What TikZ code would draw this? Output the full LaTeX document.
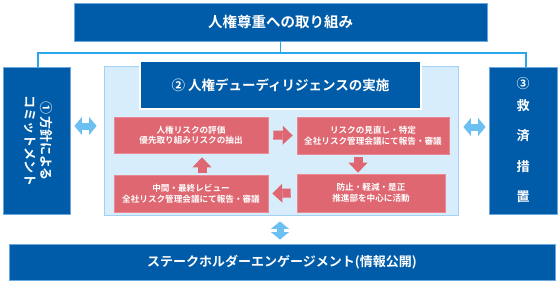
\documentclass[tikz,border=0pt]{standalone}
\usepackage{fontspec}
\setmainfont{Noto Sans CJK JP}[BoldFont={Noto Sans CJK JP Bold}]
\usetikzlibrary{arrows.meta}
\definecolor{dblue}{HTML}{005CA8}
\definecolor{dborder}{HTML}{6AA8DE}
\definecolor{panelfill}{HTML}{D8EDFB}
\definecolor{panelline}{HTML}{A2D2F3}
\definecolor{redbox}{HTML}{DF6771}
\definecolor{redline}{HTML}{E98A92}
\definecolor{arrblue}{HTML}{6CC0F1}
\definecolor{conn}{HTML}{2BA6E8}
\tikzset{
  darkbox/.style={draw=dborder, line width=0.8pt, fill=dblue, text=white, inner sep=0pt},
  panelbox/.style={draw=panelline, line width=0.8pt, fill=panelfill, inner sep=0pt},
  titlebox/.style={draw=white, line width=1.5pt, fill=dblue, text=white, inner sep=0pt},
  redbox/.style={draw=redline, line width=0.6pt, fill=redbox, text=white, inner sep=0pt, align=center,
    font=\fontsize{8.6}{10.5}\selectfont\bfseries},
  connector/.style={draw=conn, line width=1.5pt},
  redarrow/.style={draw=redbox, line width=9pt, -{Triangle[length=10pt,width=19pt,line width=0pt]}},
  bluearrow/.style={draw=arrblue, line width=7pt,
    {Triangle[length=7.5pt,width=18pt,line width=0pt]}-{Triangle[length=7.5pt,width=18pt,line width=0pt]}}
}
\begin{document}
\begin{tikzpicture}[x=1pt,y=-1pt]
\useasboundingbox (0,0) rectangle (560,285);
% top
\node[darkbox, minimum width=413pt, minimum height=38pt, font=\fontsize{14.5}{17}\selectfont\bfseries]
  (top) at (280.5,22) {人権尊重への取り組み};
% side boxes
\node[darkbox, minimum width=67pt, minimum height=147pt] (left) at (36.5,140.5) {};
\node[text=white, rotate=-90, align=center, inner sep=0pt, font=\fontsize{13}{16.5}\selectfont\bfseries]
  (lefttext) at (38.5,141) {①\,方針による\\コミットメント};
\node[darkbox, minimum width=68pt, minimum height=147pt, align=center,
  font=\fontsize{13}{30.5}\selectfont\bfseries] (right) at (523,140.5) {③\\[-9pt]救\\済\\措\\置};
% panel
\node[panelbox, minimum width=354pt, minimum height=149pt] (panel) at (281,140.5) {};
\node[titlebox, minimum width=281pt, minimum height=48pt, font=\fontsize{13.5}{16}\selectfont\bfseries]
  (title) at (280.5,85) {② 人権デューディリジェンスの実施};
% red boxes
\node[redbox, minimum width=154pt, minimum height=36pt] (A) at (191,135) {人権リスクの評価\\優先取り組みリスクの抽出};
\node[redbox, minimum width=152pt, minimum height=37pt] (B) at (373,135.5) {リスクの見直し・特定\\全社リスク管理会議にて報告・審議};
\node[redbox, minimum width=148pt, minimum height=38pt] (C) at (371,193) {防止・軽減・是正\\推進部を中心に活動};
\node[redbox, minimum width=154pt, minimum height=37pt] (D) at (191,193.5) {中間・最終レビュー\\全社リスク管理会議にて報告・審議};
% bottom
\node[darkbox, minimum width=546pt, minimum height=36pt, font=\fontsize{13}{16}\selectfont\bfseries]
  (bottom) at (282,262) {ステークホルダーエンゲージメント(情報公開)};
% connectors
\coordinate (hl) at (0,53);
\coordinate (lx) at (38,0);
\coordinate (rx) at (526,0);
\draw[connector] (top.south) -- (top.south |- hl) -| (lx |- left.north);
\draw[connector] (top.south |- hl) -| (rx |- right.north);
% red arrows
\coordinate (dn) at (358,0);
\coordinate (upx) at (202,0);
\draw[redarrow, shorten <=5pt, shorten >=4pt] (A.east) -- (B.west);
\draw[redarrow, shorten <=3pt, shorten >=1pt] (B.south -| dn) -- (C.north -| dn);
\draw[redarrow, shorten <=6pt, shorten >=4pt] (C.west) -- (D.east);
\draw[redarrow, shorten <=2pt, shorten >=4pt] (D.north -| upx) -- (A.south -| upx);
% blue double arrows
\coordinate (la) at (0,126);
\coordinate (ra) at (0,127);
\coordinate (va) at (280,0);
\draw[bluearrow, shorten <=4pt, shorten >=7pt] (left.east |- la) -- (panel.west |- la);
\draw[bluearrow, shorten <=5pt, shorten >=3pt] (panel.east |- ra) -- (right.west |- ra);
\draw[bluearrow, shorten <=6pt, shorten >=4pt] (panel.south -| va) -- (bottom.north -| va);
\end{tikzpicture}
\end{document}
